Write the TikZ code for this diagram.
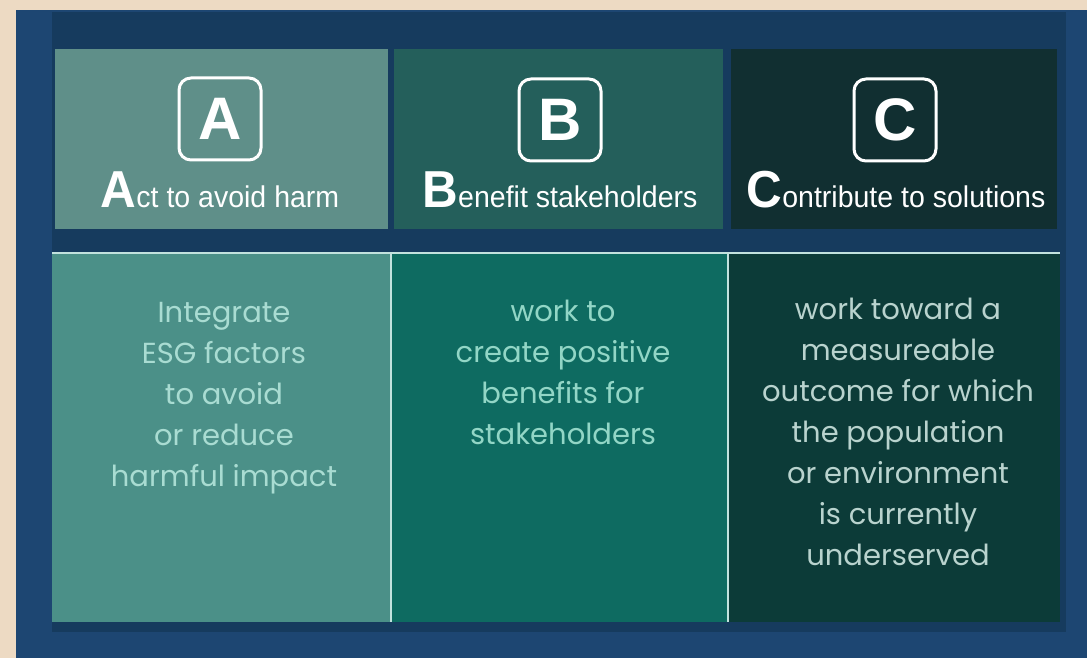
\documentclass[tikz,border=0pt]{standalone}
\usepackage{fontspec}
\setmainfont{Liberation Sans}
\newfontfamily\headfont[FakeStretch=0.95]{Liberation Sans}
\newfontfamily\bodyfont{Poppins}
\usetikzlibrary{positioning}

\definecolor{paper}{HTML}{EDDAC3}
\definecolor{frameblue}{HTML}{1D4672}
\definecolor{navy}{HTML}{163B5E}
\definecolor{headA}{HTML}{5F8F89}
\definecolor{headB}{HTML}{245F5B}
\definecolor{headC}{HTML}{112F31}
\definecolor{bodyA}{HTML}{4B9088}
\definecolor{bodyB}{HTML}{0E6B61}
\definecolor{bodyC}{HTML}{0C3B38}
\definecolor{rule}{HTML}{C2E2DE}
\definecolor{txtA}{HTML}{A9DCD2}
\definecolor{txtB}{HTML}{92D6C6}
\definecolor{txtC}{HTML}{B9D3CE}

\tikzset{
  letterbox/.style={draw=white, line width=3pt, rounded corners=12pt,
    minimum size=82pt, inner sep=0pt, text=white,
    font=\bfseries\fontsize{60}{60}\selectfont},
  headline/.style={anchor=base, inner sep=0pt, text=white,
    font=\headfont\fontsize{30}{30}\selectfont},
  bodytext/.style={anchor=north, align=center, inner sep=0pt,
    font=\bodyfont\fontsize{29}{41}\selectfont},
}
\newcommand{\initial}[1]{{\fontsize{52}{52}\selectfont\bfseries #1}}

\begin{document}
\begin{tikzpicture}[x=1pt,y=-1pt]
  \useasboundingbox (0,0) rectangle (1087,658);
  % background and frame
  \fill[paper] (0,0) rectangle (1087,658);
  \fill[frameblue] (16,10) rectangle (1087,658);
  \fill[navy] (52,12) rectangle (1066,632);

  % header panels
  \fill[headA] (55,49) rectangle (388,229);
  \fill[headB] (394,49) rectangle (723,229);
  \fill[headC] (731,49) rectangle (1057,229);

  % body panels
  \fill[bodyA] (52,253) rectangle (391,622);
  \fill[bodyB] (391,253) rectangle (728,622);
  \fill[bodyC] (728,253) rectangle (1060,622);
  \draw[rule, line width=2pt] (52,253) -- (1060,253);
  \draw[rule, line width=2pt] (391,253) -- (391,622);
  \draw[rule, line width=2pt] (728,253) -- (728,622);

  % letters and headings
  \node[letterbox] (boxA) at (220,119) {A};
  \node[letterbox] (boxB) at (560,120) {B};
  \node[letterbox] (boxC) at (895,120) {C};
  \node[headline] (headA) at (220,207) {\initial{A}ct to avoid harm};
  \node[headline] (headB) at (560,207) {\initial{B}enefit stakeholders};
  \node[headline] (headC) at (896,207) {\initial{C}ontribute to solutions};

  % descriptions
  \node[bodytext, text=txtA] (textA) at (224,302)
    {Integrate\\ESG factors\\to avoid\\or reduce\\harmful impact};
  \node[bodytext, text=txtB] (textB) at (563,300)
    {work to\\create positive\\benefits for\\stakeholders};
  \node[bodytext, text=txtC] (textC) at (898,298)
    {work toward a\\measureable\\outcome for which\\the population\\or environment\\is currently\\underserved};
\end{tikzpicture}
\end{document}
